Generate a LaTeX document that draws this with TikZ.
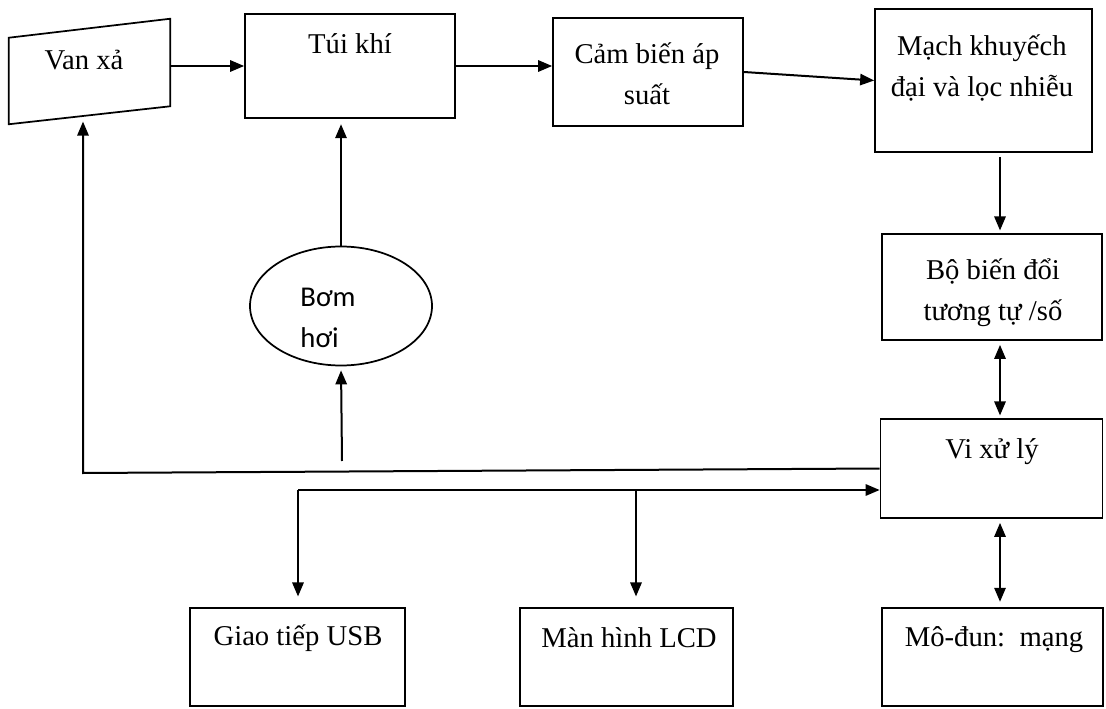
\documentclass[tikz,border=0pt]{standalone}
\usepackage{fontspec}
\setmainfont{Liberation Serif}
\newfontfamily\pumpfont{Carlito}
\usetikzlibrary{arrows.meta,shapes.geometric,calc}
\begin{document}
\begin{tikzpicture}[x=0.75pt,y=-0.75pt,
  box/.style={draw, line width=1.3pt, inner sep=0pt},
  sz/.style 2 args={minimum width=#1*0.75pt, minimum height=#2*0.75pt},
  txt/.style={font=\fontsize{21.5}{31}\selectfont, align=center, inner sep=0pt},
  line/.style={line width=1.5pt},
  conn/.style={line width=1.5pt, -{Triangle[length=10.5pt,width=8.5pt]}},
  dconn/.style={line width=1.5pt, {Triangle[length=10.5pt,width=8.5pt]}-{Triangle[length=10.5pt,width=8.5pt]}}]
\useasboundingbox (0,0) rectangle (1106,709);

% boxes
\node[sz={161}{88}, inner sep=0pt] (van) at (89.5,72) {};
\draw[line width=1.3pt] ($(van.north west)+(0,10)$) -- ($(van.north east)+(0,-9)$)
  -- ($(van.south east)+(0,-10)$) -- ($(van.south west)+(0,8)$) -- cycle;
\node[box, sz={210}{104}] (tui) at (350,66) {};
\node[box, sz={190}{108}] (cam) at (648,72) {};
\node[box, sz={217}{143}] (mach) at (983.5,80.5) {};
\node[box, sz={220}{106}] (bo) at (992,287) {};
\node[box, sz={222}{99}] (vi) at (991.5,468.5) {};
\node[box, sz={215}{98}] (usb) at (297.5,657) {};
\node[box, sz={213}{98}] (lcd) at (626.5,657) {};
\node[box, sz={221}{98}] (mo) at (992.5,657) {};
\node[draw, line width=1.3pt, ellipse, sz={182}{119}, inner sep=0pt] (pump) at (341,306) {};

% texts
\node[txt] (vant) at (84,60) {Van xả};
\node[txt] (tuit) at (350,44) {Túi khí};
\node[txt] (camt) at (647,74) {Cảm biến áp\\suất};
\node[txt] (macht) at (982,68) {Mạch khuyếch\\đại và lọc nhiễu};
\node[txt] (bot) at (993,293) {Bộ biến đổi\\tương tự /số};
\node[txt] (vit) at (992,452) {Vi xử lý};
\node[txt] (usbt) at (298,638) {Giao tiếp USB};
\node[txt] (lcdt) at (629,638) {Màn hình LCD};
\node[txt] (mot) at (994,640) {Mô-đun:\ \ mạng};
\node[font=\pumpfont\fontsize{21.5}{31}\selectfont, align=left, inner sep=0pt] (pumpt) at (328,318) {Bơm\\hơi};

% helper coordinates
\coordinate (cx) at (1000,0);
\coordinate (bus1L) at (83,473);
\coordinate (p1) at (342,461);
\coordinate (b2) at (298,490);
\coordinate (b3) at (636,490);

% top chain
\draw[conn] (van.east |- tui.west) -- (tui.west);
\draw[conn] (tui.east) -- (cam.west |- tui.east);
\draw[conn] (cam.east) -- (mach.west);
\draw[conn, shorten <=3pt, shorten >=2pt] (mach.south -| cx) -- (bo.north -| cx);
\draw[dconn, shorten <=3pt, shorten >=2pt] (bo.south -| cx) -- (vi.north -| cx);
\draw[dconn, shorten <=3pt, shorten >=4pt] (vi.south -| cx) -- (mo.north -| cx);

% bus 1 (to valve and pump)
\draw[conn, shorten >=4pt] (vi.west) -- (bus1L) -- (van.south -| bus1L);
\draw[conn, shorten >=3pt] (p1) -- (pump.south);
\draw[conn, shorten >=4pt] (pump.north) -- (tui.south -| pump.north);

% bus 2 (USB, LCD)
\draw[conn] (b2) -- (vi.west |- b2);
\draw[conn, shorten >=8pt] (b2) -- (usb.north -| b2);
\draw[conn, shorten >=8pt] (b3) -- (lcd.north -| b3);
\end{tikzpicture}
\end{document}
